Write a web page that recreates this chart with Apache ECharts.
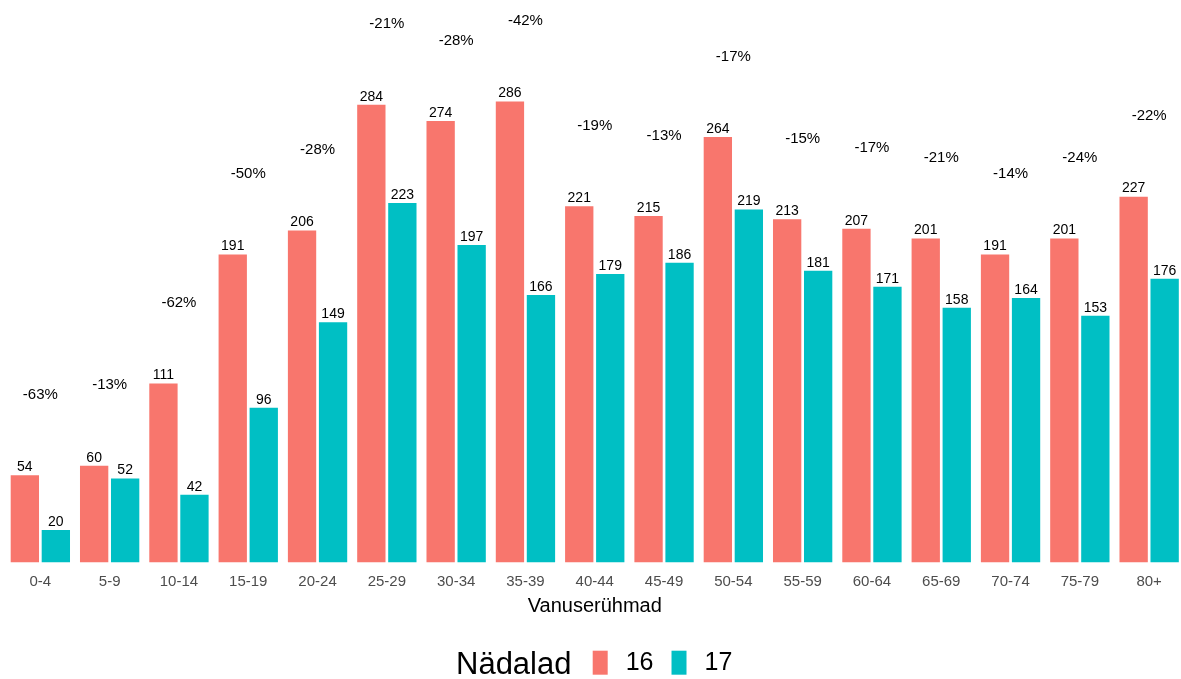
<!DOCTYPE html>
<html>
<head>
<meta charset="utf-8">
<script src="https://cdn.jsdelivr.net/npm/echarts@6/dist/echarts.min.js"></script>
<style>
  html, body { margin: 0; padding: 0; background: #fff; overflow: hidden; }
  #chart { width: 1184px; height: 679px; }
</style>
</head>
<body>
<div id="chart"></div>
<script>
// vanuserühmad
const ageGroups = ['0-4', '5-9', '10-14', '15-19', '20-24', '25-29', '30-34', '35-39', '40-44',
  '45-49', '50-54', '55-59', '60-64', '65-69', '70-74', '75-79', '80+'];
// nädal 16
const week16 = [54, 60, 111, 191, 206, 284, 274, 286, 221, 215, 264, 213, 207, 201, 191, 201, 227];
// nädal 17
const week17 = [20, 52, 42, 96, 149, 223, 197, 166, 179, 186, 219, 181, 171, 158, 164, 153, 176];
// muutus
const changeLabels = ['-63%', '-13%', '-62%', '-50%', '-28%', '-21%', '-28%', '-42%', '-19%',
  '-13%', '-17%', '-15%', '-17%', '-21%', '-14%', '-24%', '-22%'];

const font = 'Liberation Sans, Arial, sans-serif';

// protsendi silt asub 50 ühikut kõrgema tulba kohal
const changePos = week16.map((v, i) => Math.max(v, week17[i]) + 50);

const myChart = echarts.init(document.getElementById('chart'));

const option = {
  animation: false,
  textStyle: { fontFamily: font },
  title: {
    text: 'Nädalad',
    left: 451,
    top: 645,
    textStyle: { fontSize: 31, fontWeight: 'normal', color: '#000', fontFamily: font }
  },
  legend: {
    data: [
      { name: '16', textStyle: { padding: [0, 0, 0, 13] } },
      { name: '17', textStyle: { padding: [0, 0, 0, 13] } }
    ],
    left: 587.7,
    top: 645.2,
    icon: 'rect',
    itemWidth: 15,
    itemHeight: 24,
    itemGap: 18,
    textStyle: { fontSize: 25, color: '#000', fontFamily: font }
  },
  grid: {
    left: 5.7,
    right: 0.2,
    top: 14.6,
    bottom: 116.7,
    containLabel: false,
    outerBoundsMode: 'none'
  },
  xAxis: {
    type: 'category',
    data: ageGroups,
    name: 'Vanuserühmad',
    nameLocation: 'middle',
    nameGap: 34,
    nameTextStyle: { fontSize: 20, color: '#000', fontFamily: font },
    axisLine: { show: false },
    axisTick: { show: false },
    axisLabel: { fontSize: 15, color: '#4D4D4D', margin: 12, interval: 0, fontFamily: font }
  },
  yAxis: {
    type: 'value',
    min: 0,
    max: 340,
    show: false,
    splitLine: { show: false }
  },
  series: [
    {
      name: '16',
      type: 'bar',
      data: week16,
      barGap: '9.5%',
      barCategoryGap: '14.4%',
      itemStyle: { color: '#F8766D' },
      label: { show: true, position: 'top', distance: 1, fontSize: 14, color: '#000', fontFamily: font }
    },
    {
      name: '17',
      type: 'bar',
      data: week17,
      barGap: '9.5%',
      barCategoryGap: '14.4%',
      itemStyle: { color: '#00BFC4' },
      label: { show: true, position: 'top', distance: 1, fontSize: 14, color: '#000', fontFamily: font }
    },
    {
      name: 'muutus',
      type: 'scatter',
      data: changePos,
      symbolSize: 0,
      silent: true,
      itemStyle: { opacity: 1 },
      label: {
        show: true,
        position: 'inside',
        fontSize: 15,
        color: '#000',
        fontFamily: font,
        formatter: (p) => changeLabels[p.dataIndex]
      }
    }
  ]
};

myChart.setOption(option);
</script>
</body>
</html>
